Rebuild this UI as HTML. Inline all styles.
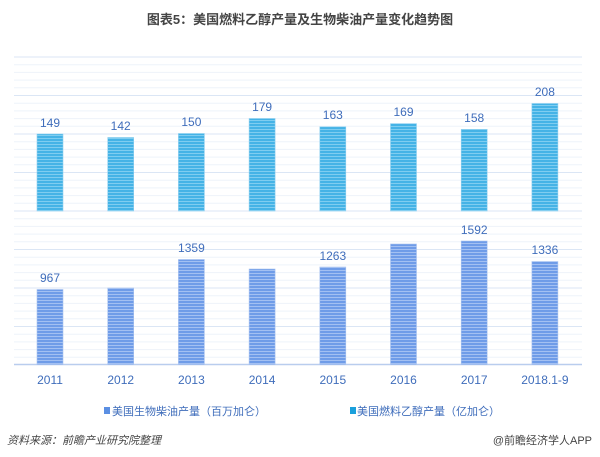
<!DOCTYPE html>
<html><head><meta charset="utf-8"><style>
body{margin:0;background:#fff;}
svg{display:block;font-family:"Liberation Sans","Noto Sans CJK SC",sans-serif;}
</style></head><body>
<svg width="600" height="457" viewBox="0 0 600 457" xmlns="http://www.w3.org/2000/svg">
<defs>
<pattern id="pu" width="4" height="3" patternUnits="userSpaceOnUse">
<rect width="4" height="3" fill="#45b3e6"/><rect width="4" height="1" fill="#7fcdf0"/>
</pattern>
<pattern id="pl" width="4" height="3" patternUnits="userSpaceOnUse">
<rect width="4" height="3" fill="#6f9ce8"/><rect width="4" height="1" fill="#a3c0f2"/>
</pattern>
</defs>
<text x="300" y="24" text-anchor="middle" font-size="13" font-weight="bold" fill="#444">图表5：美国燃料乙醇产量及生物柴油产量变化趋势图</text>
<g stroke-width="1">
<g stroke="#eef3fa">
<line x1="14" x2="582" y1="64.7" y2="64.7"/><line x1="14" x2="582" y1="72.4" y2="72.4"/><line x1="14" x2="582" y1="80.1" y2="80.1"/><line x1="14" x2="582" y1="87.8" y2="87.8"/>
<line x1="14" x2="582" y1="103.2" y2="103.2"/><line x1="14" x2="582" y1="110.9" y2="110.9"/><line x1="14" x2="582" y1="118.6" y2="118.6"/><line x1="14" x2="582" y1="126.3" y2="126.3"/>
<line x1="14" x2="582" y1="141.7" y2="141.7"/><line x1="14" x2="582" y1="149.4" y2="149.4"/><line x1="14" x2="582" y1="157.1" y2="157.1"/><line x1="14" x2="582" y1="164.8" y2="164.8"/>
<line x1="14" x2="582" y1="180.2" y2="180.2"/><line x1="14" x2="582" y1="187.9" y2="187.9"/><line x1="14" x2="582" y1="195.6" y2="195.6"/><line x1="14" x2="582" y1="203.3" y2="203.3"/>
<line x1="14" x2="582" y1="218.7" y2="218.7"/><line x1="14" x2="582" y1="226.4" y2="226.4"/><line x1="14" x2="582" y1="234.1" y2="234.1"/><line x1="14" x2="582" y1="241.8" y2="241.8"/>
<line x1="14" x2="582" y1="257.2" y2="257.2"/><line x1="14" x2="582" y1="264.9" y2="264.9"/><line x1="14" x2="582" y1="272.6" y2="272.6"/><line x1="14" x2="582" y1="280.3" y2="280.3"/>
<line x1="14" x2="582" y1="295.7" y2="295.7"/><line x1="14" x2="582" y1="303.4" y2="303.4"/><line x1="14" x2="582" y1="311.1" y2="311.1"/><line x1="14" x2="582" y1="318.8" y2="318.8"/>
<line x1="14" x2="582" y1="334.2" y2="334.2"/><line x1="14" x2="582" y1="341.9" y2="341.9"/><line x1="14" x2="582" y1="349.6" y2="349.6"/><line x1="14" x2="582" y1="357.3" y2="357.3"/>
</g>
<g stroke="#dbe6f5">
<line x1="14" x2="582" y1="57" y2="57"/><line x1="14" x2="582" y1="95.5" y2="95.5"/><line x1="14" x2="582" y1="134" y2="134"/><line x1="14" x2="582" y1="172.5" y2="172.5"/>
<line x1="14" x2="582" y1="211" y2="211"/><line x1="14" x2="582" y1="249.5" y2="249.5"/><line x1="14" x2="582" y1="288" y2="288"/><line x1="14" x2="582" y1="326.5" y2="326.5"/>
</g>
<line x1="14" x2="582" y1="364.5" y2="364.5" stroke="#b9cdee" stroke-width="1.5"/>
</g>
<g fill="url(#pu)" stroke="#8fd0f0" stroke-width="0.6">
<rect x="37" y="134" width="26" height="77"/>
<rect x="107.7" y="137.5" width="26" height="73.5"/>
<rect x="178.4" y="133.5" width="26" height="77.5"/>
<rect x="249.1" y="118.5" width="26" height="92.5"/>
<rect x="319.8" y="126.8" width="26" height="84.2"/>
<rect x="390.5" y="123.6" width="26" height="87.4"/>
<rect x="461.2" y="129.3" width="26" height="81.7"/>
<rect x="531.9" y="103.5" width="26" height="107.5"/>
</g>
<g fill="url(#pl)" stroke="#a9c3f0" stroke-width="0.6">
<rect x="37" y="289.5" width="26" height="75"/>
<rect x="107.7" y="288" width="26" height="76.5"/>
<rect x="178.4" y="259.5" width="26" height="105"/>
<rect x="249.1" y="269" width="26" height="95.5"/>
<rect x="319.8" y="267" width="26" height="97.5"/>
<rect x="390.5" y="244" width="26" height="120.5"/>
<rect x="461.2" y="241" width="26" height="123.5"/>
<rect x="531.9" y="261.5" width="26" height="103"/>
</g>
<g font-size="12" fill="#3f6dbb" text-anchor="middle">
<text x="50" y="127">149</text><text x="120.7" y="130">142</text><text x="191.4" y="126">150</text><text x="262.1" y="111">179</text>
<text x="332.8" y="119">163</text><text x="403.5" y="116">169</text><text x="474.2" y="122">158</text><text x="544.9" y="96">208</text>
<text x="50" y="282">967</text><text x="191.4" y="252">1359</text><text x="332.8" y="260">1263</text><text x="474.2" y="234">1592</text><text x="544.9" y="254">1336</text>
</g>
<g font-size="12" fill="#3f6dbb" text-anchor="middle">
<text x="50" y="384">2011</text><text x="120.7" y="384">2012</text><text x="191.4" y="384">2013</text><text x="262.1" y="384">2014</text>
<text x="332.8" y="384">2015</text><text x="403.5" y="384">2016</text><text x="474.2" y="384">2017</text><text x="544.9" y="384">2018.1-9</text>
</g>
<rect x="104" y="407" width="6" height="7" fill="#5b8fe3"/>
<text x="112" y="415" font-size="11" fill="#3f6dbb">美国生物柴油产量（百万加仑）</text>
<rect x="350" y="407" width="6" height="7" fill="#1aa0dc"/>
<text x="357" y="415" font-size="11" fill="#3f6dbb">美国燃料乙醇产量（亿加仑）</text>
<text x="7" y="444" font-size="11" font-style="italic" fill="#444">资料来源：前瞻产业研究院整理</text>
<text x="592" y="444" font-size="11" fill="#444" text-anchor="end">@前瞻经济学人APP</text>
</svg>
</body></html>
